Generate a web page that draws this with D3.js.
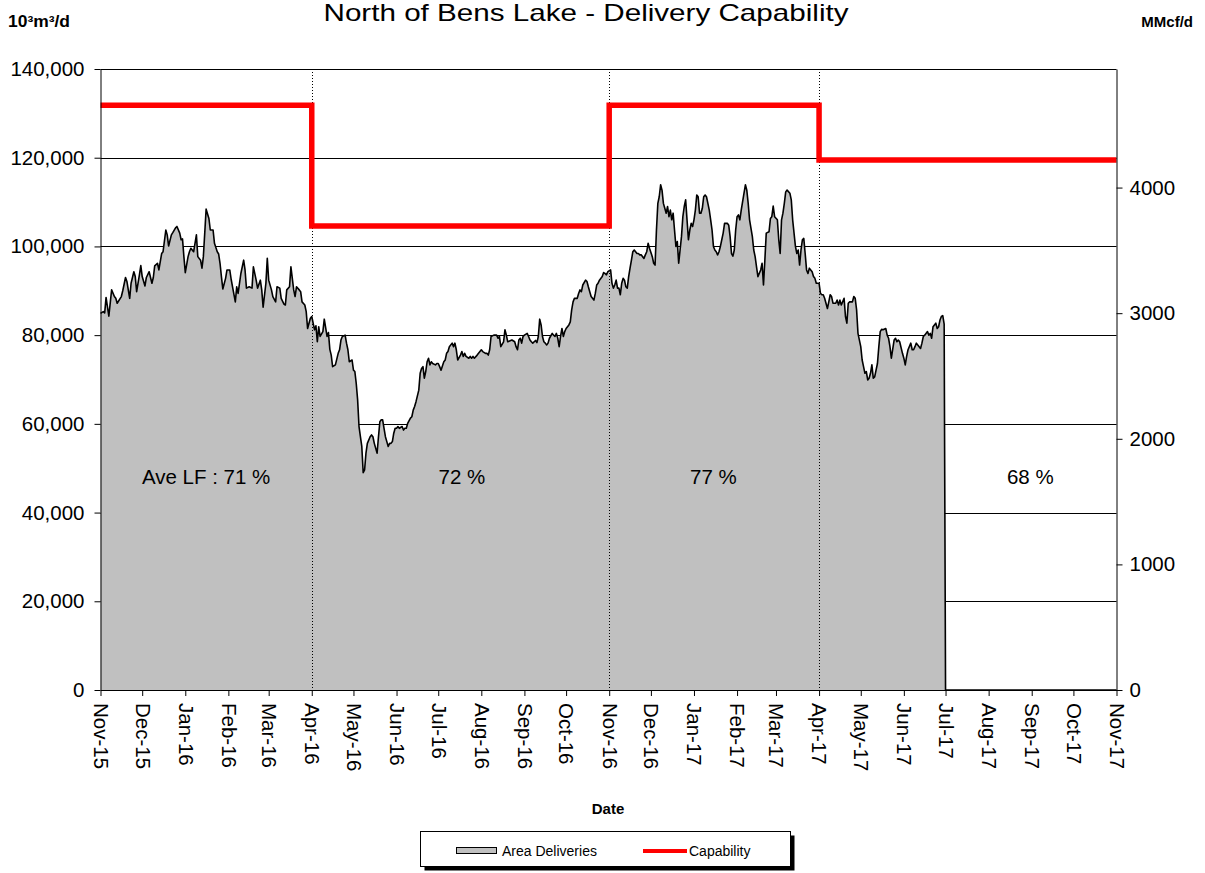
<!DOCTYPE html>
<html>
<head>
<meta charset="utf-8">
<script src="https://cdn.jsdelivr.net/npm/d3@7"></script>
<style>
  body { margin: 0; background: #fff; }
  text { font-family: "Liberation Sans", Arial, sans-serif; }
</style>
</head>
<body>
<svg id="chart" width="1205" height="873"></svg>
<script>
// area deliveries, [days since 1 Nov 2015, 10^3 m3/d]
const deliveries = [
  [0,84900],[2,85300],[3,85000],[4,88500],[5,86400],[6,84300],[8,90200],[10,88700],[11,88300],[12,87200],
  [15,88700],[16,90000],[18,93000],[19,92100],[21,88300],[22,91700],[24,94300],[25,93200],[26,89800],[28,93600],
  [29,95700],[30,93200],[32,91100],[33,93000],[35,94300],[36,93000],[37,91700],[38,93000],[39,95600],[41,96200],
  [42,94700],[44,98400],[45,98800],[47,103700],[48,102600],[49,100100],[51,102600],[52,103100],[54,104200],[55,104500],
  [57,103000],[58,101500],[59,101700],[60,97700],[61,94100],[63,97700],[64,98800],[65,99600],[67,98800],[68,100700],
  [69,102600],[70,97700],[72,96900],[73,95100],[74,97700],[75,103000],[76,108400],[78,106300],[79,103700],[81,103700],
  [82,100700],[84,98800],[85,98300],[86,96200],[87,93200],[88,90400],[90,92800],[91,94700],[93,94700],[94,92600],
  [95,90900],[97,87500],[98,90900],[99,89400],[101,93900],[103,96900],[104,94700],[105,90600],[107,90900],[109,90600],
  [110,95400],[112,92400],[113,90600],[115,92400],[116,90200],[117,86300],[119,91700],[120,97300],[121,92400],[123,90200],
  [124,88700],[126,87500],[127,90900],[129,90600],[130,88300],[132,87000],[133,86800],[134,90200],[136,90900],[137,95400],
  [139,90200],[140,88700],[141,90900],[143,90200],[144,89800],[145,87500],[147,86800],[148,85300],[149,81500],[151,83800],
  [152,84200],[154,81200],[155,82100],[156,78500],[157,81900],[158,79700],[160,80800],[161,83600],[163,79700],[164,80600],
  [165,76800],[166,75500],[167,72900],[169,73300],[171,75900],[172,76700],[173,78900],[174,79700],[176,80000],[177,78200],
  [178,76700],[179,74000],[181,74400],[182,72100],[183,71800],[184,69100],[185,65400],[186,59400],[187,57100],[188,54900],
  [189,49000],[190,49600],[191,53400],[192,55600],[194,57100],[195,57500],[196,57100],[197,55600],[199,53400],[200,57100],
  [201,60500],[202,60900],[203,60900],[204,59000],[205,57100],[206,56000],[207,54900],[208,55600],[209,55600],[210,56000],
  [211,57900],[212,59000],[213,59000],[214,59400],[215,59000],[217,59400],[218,58600],[219,59000],[220,59000],[221,60100],
  [223,61300],[224,61600],[225,63100],[226,63900],[227,65000],[229,67600],[230,71400],[231,72500],[232,72900],[233,70300],
  [234,71800],[235,74000],[236,74800],[237,73300],[238,74000],[239,73600],[241,73300],[242,73600],[243,73600],[244,72900],
  [245,72100],[247,74000],[248,74400],[249,75900],[250,76300],[251,77400],[253,78200],[254,77400],[255,78200],[256,76700],
  [257,74400],[259,75500],[260,76300],[261,75200],[262,75900],[263,75200],[265,74800],[266,75200],[267,74800],[268,75200],
  [269,74800],[271,75500],[272,75900],[273,76300],[274,76700],[275,76300],[277,75900],[278,75900],[279,75500],[280,76700],
  [281,79700],[283,80000],[284,80000],[285,80000],[286,79300],[287,79700],[288,77400],[290,78500],[291,81200],[292,80000],
  [293,78500],[296,78900],[298,78500],[299,77400],[300,76700],[301,78900],[302,79300],[303,78200],[304,79700],[305,80000],
  [307,80400],[308,79700],[309,78900],[310,78500],[311,78200],[313,78800],[314,78300],[315,79700],[316,83600],[317,82300],
  [318,79700],[319,78500],[320,78200],[321,77800],[322,78200],[323,79300],[325,80400],[326,80000],[327,79700],[328,80400],
  [329,79300],[330,77400],[331,79700],[332,81500],[333,79700],[334,80800],[335,81500],[337,82300],[338,83000],[339,85700],
  [340,87500],[341,88300],[343,88300],[344,89400],[345,90200],[346,89800],[347,91300],[349,92400],[350,92100],[351,90900],
  [352,89800],[353,88700],[355,87900],[356,89400],[357,91300],[358,91700],[359,92400],[361,93200],[362,94100],[363,93900],
  [364,93600],[365,94300],[367,94700],[368,91700],[369,90600],[370,91300],[371,92400],[372,90600],[373,90600],[374,89100],
  [375,91700],[376,92800],[377,92400],[378,90900],[379,90600],[380,93200],[381,95100],[382,96900],[383,98800],[384,99200],
  [385,98800],[386,98400],[387,98400],[388,98100],[389,98100],[391,97300],[392,98100],[393,98800],[394,100700],[395,99600],
  [397,97700],[398,96200],[399,95800],[400,103700],[401,109700],[402,111200],[403,113900],[404,112700],[405,109700],[406,108600],
  [407,107500],[408,109000],[409,106700],[410,108200],[411,106000],[412,107500],[413,103700],[414,100000],[415,101100],[416,96200],
  [417,99200],[418,102200],[419,106700],[420,109000],[421,110500],[422,106000],[423,101500],[424,103700],[425,105200],[426,104500],
  [427,106000],[428,108200],[429,111600],[430,111200],[431,107500],[432,107500],[433,108600],[434,111200],[435,111600],[436,111200],
  [437,109700],[438,108200],[439,106000],[440,103700],[441,100000],[442,99200],[443,98800],[444,98100],[445,98800],[446,100000],
  [447,101500],[448,103000],[449,105200],[451,105200],[452,104800],[453,102200],[454,98400],[455,97800],[456,99200],[457,103700],
  [458,106700],[459,107100],[460,106000],[461,108200],[463,112000],[464,113900],[465,112700],[466,109700],[467,106000],[469,102200],
  [470,99200],[471,97700],[472,95400],[473,93200],[475,94700],[476,96200],[477,91300],[478,96900],[479,103000],[481,103300],
  [482,106300],[483,106700],[484,109100],[485,106700],[487,106000],[488,101500],[489,98400],[490,106000],[491,107500],[492,109700],
  [493,112300],[494,112700],[496,112000],[497,110500],[498,106000],[500,100000],[501,98400],[502,99200],[503,95800],[504,99200],
  [505,101500],[506,101800],[507,98400],[508,94700],[509,93900],[510,95100],[511,94700],[512,94300],[513,93200],[514,92800],
  [515,91700],[517,91700],[518,89400],[519,89100],[520,89100],[521,88300],[523,86000],[524,87500],[525,89100],[526,88700],
  [527,87200],[529,87200],[530,87900],[531,86800],[532,87900],[533,86800],[535,88300],[536,84200],[537,82700],[538,87200],
  [539,87500],[541,87500],[542,88700],[543,88300],[544,85700],[545,80400],[547,77400],[548,74400],[549,72900],[550,71400],
  [551,71800],[552,69900],[553,70300],[554,71400],[555,73300],[556,70300],[557,70600],[559,73600],[560,77400],[561,80800],
  [562,81300],[563,81200],[565,81500],[566,80000],[567,79300],[568,77400],[569,74800],[571,78900],[572,79300],[573,78500],
  [574,78900],[575,78500],[577,75900],[578,74800],[579,73300],[580,75200],[581,76700],[583,78200],[584,76700],[585,76700],
  [586,77400],[587,78200],[589,77400],[590,77000],[591,78200],[592,79700],[593,80000],[595,80800],[596,80000],[597,80400],
  [598,79300],[599,81900],[601,82700],[602,81500],[603,81900],[604,83400],[605,84200],[606,84400],[607,82500],[608,0],[731,0]
];

// capability steps
const capabilityDates = ["2015-11-01", "2016-04-01", "2016-11-01", "2017-04-01", "2017-11-01"];
const capabilityValues = [131800, 104600, 131800, 119500, 119500];

const phaseDates = ["2016-04-01", "2016-11-01", "2017-04-01"];
const loadFactorLabels = ["Ave LF : 71 %", "72 %", "77 %", "68 %"];
const loadFactorDates = ["2016-01-16", "2016-07-18", "2017-01-15", "2017-08-31"];
const loadFactorLevel = 48000;

const leftTicks = [0, 20000, 40000, 60000, 80000, 100000, 120000, 140000];
const rightTicks = [0, 1000, 2000, 3000, 4000];
const m3PerMcf = 28.317; // 10^3 m3 per MMcf

const parse = d3.utcParse("%Y-%m-%d");
const start = parse("2015-11-01");
const end = parse("2017-11-01");

const svg = d3.select("#chart");
const plotLeft = 100.5, plotRight = 1116.5, plotTop = 69, plotBottom = 690;
const tickFont = 20.5;

const x = d3.scaleUtc().domain([start, end]).range([plotLeft, plotRight]);
const y = d3.scaleLinear().domain([0, 140000]).range([plotBottom, plotTop]);
const yRight = d3.scaleLinear().domain([0, 140000 / m3PerMcf]).range([plotBottom, plotTop]);

// gridlines, behind the area
svg.append("g")
  .selectAll("line")
  .data(leftTicks.slice(1))
  .join("line")
  .attr("x1", plotLeft).attr("x2", plotRight)
  .attr("y1", d => Math.round(y(d)) + 0.5).attr("y2", d => Math.round(y(d)) + 0.5)
  .attr("stroke", "#000").attr("stroke-width", 1);

const area = d3.area()
  .x(d => x(d3.utcDay.offset(start, d[0])))
  .y0(y(0))
  .y1(d => y(d[1]));

const line = d3.line()
  .x(d => x(d3.utcDay.offset(start, d[0])))
  .y(d => y(d[1]));

svg.append("path")
  .datum(deliveries)
  .attr("d", area)
  .attr("fill", "#c0c0c0");

svg.append("path")
  .datum(deliveries)
  .attr("d", line)
  .attr("fill", "none")
  .attr("stroke", "#000")
  .attr("stroke-width", 1.6)
  .attr("stroke-linejoin", "round");

// dotted phase lines
svg.append("g")
  .selectAll("line")
  .data(phaseDates)
  .join("line")
  .attr("x1", d => Math.round(x(parse(d))) + 0.5).attr("x2", d => Math.round(x(parse(d))) + 0.5)
  .attr("y1", plotTop).attr("y2", plotBottom)
  .attr("stroke", "#000").attr("stroke-width", 1)
  .attr("stroke-dasharray", "1,2");

// capability
const capData = capabilityDates.map((d, i) => ({ date: parse(d), value: capabilityValues[i] }));
svg.append("path")
  .datum(capData)
  .attr("d", d3.line().curve(d3.curveStepAfter).x(d => x(d.date)).y(d => y(d.value)))
  .attr("fill", "none")
  .attr("stroke", "#ff0000")
  .attr("stroke-width", 5.5);

// axes
const yAxis = svg.append("g")
  .attr("transform", `translate(${plotLeft},0)`)
  .call(d3.axisLeft(y).tickValues(leftTicks).tickFormat(d3.format(",")).tickSize(6).tickSizeOuter(0).tickPadding(10));

const yAxisRight = svg.append("g")
  .attr("transform", `translate(${plotRight},0)`)
  .call(d3.axisRight(yRight).tickValues(rightTicks).tickFormat(d3.format("d")).tickSize(6).tickSizeOuter(0).tickPadding(7));

const xAxis = svg.append("g")
  .attr("transform", `translate(0,${plotBottom})`)
  .call(d3.axisBottom(x).ticks(d3.utcMonth.every(1)).tickFormat(d3.utcFormat("%b-%y")).tickSize(6).tickSizeOuter(0));

xAxis.selectAll(".tick text")
  .attr("transform", "rotate(90)")
  .attr("x", 13).attr("y", 0)
  .attr("dy", "0.35em")
  .attr("text-anchor", "start");

[yAxis, yAxisRight, xAxis].forEach(a => {
  a.selectAll("text").attr("font-size", tickFont).attr("fill", "#000")
    .attr("font-family", "'Liberation Sans', Arial, sans-serif");
  a.selectAll("line, path").attr("stroke", "#000");
});

// load factor notes
svg.append("g")
  .selectAll("text")
  .data(loadFactorLabels)
  .join("text")
  .attr("x", (d, i) => x(parse(loadFactorDates[i])))
  .attr("y", y(loadFactorLevel))
  .attr("dy", "0.35em")
  .attr("text-anchor", "middle")
  .attr("font-size", tickFont)
  .text(d => d);

// titles
svg.append("text")
  .attr("x", 586).attr("y", 21)
  .attr("text-anchor", "middle")
  .attr("font-size", 24)
  .attr("textLength", 525).attr("lengthAdjust", "spacingAndGlyphs")
  .text("North of Bens Lake - Delivery Capability");

svg.append("text")
  .attr("x", 8).attr("y", 27)
  .attr("font-size", 16).attr("font-weight", "bold")
  .attr("textLength", 62).attr("lengthAdjust", "spacingAndGlyphs")
  .text("10³m³/d");

svg.append("text")
  .attr("x", 1193).attr("y", 27)
  .attr("text-anchor", "end")
  .attr("font-size", 15).attr("font-weight", "bold")
  .text("MMcf/d");

svg.append("text")
  .attr("x", 608).attr("y", 814)
  .attr("text-anchor", "middle")
  .attr("font-size", 15).attr("font-weight", "bold")
  .text("Date");

// legend
const legend = svg.append("g");
legend.append("rect").attr("x", 424.5).attr("y", 835.5).attr("width", 370).attr("height", 35).attr("fill", "#000");
legend.append("rect").attr("x", 420.5).attr("y", 831.5).attr("width", 370).attr("height", 35)
  .attr("fill", "#fff").attr("stroke", "#000");
legend.append("rect").attr("x", 456.5).attr("y", 847.5).attr("width", 40).attr("height", 6)
  .attr("fill", "#c0c0c0").attr("stroke", "#000");
legend.append("text").attr("x", 502).attr("y", 856).attr("font-size", 14).text("Area Deliveries");
legend.append("line").attr("x1", 643).attr("x2", 687).attr("y1", 851).attr("y2", 851)
  .attr("stroke", "#ff0000").attr("stroke-width", 4);
legend.append("text").attr("x", 689).attr("y", 856).attr("font-size", 14).text("Capability");
</script>
</body>
</html>
